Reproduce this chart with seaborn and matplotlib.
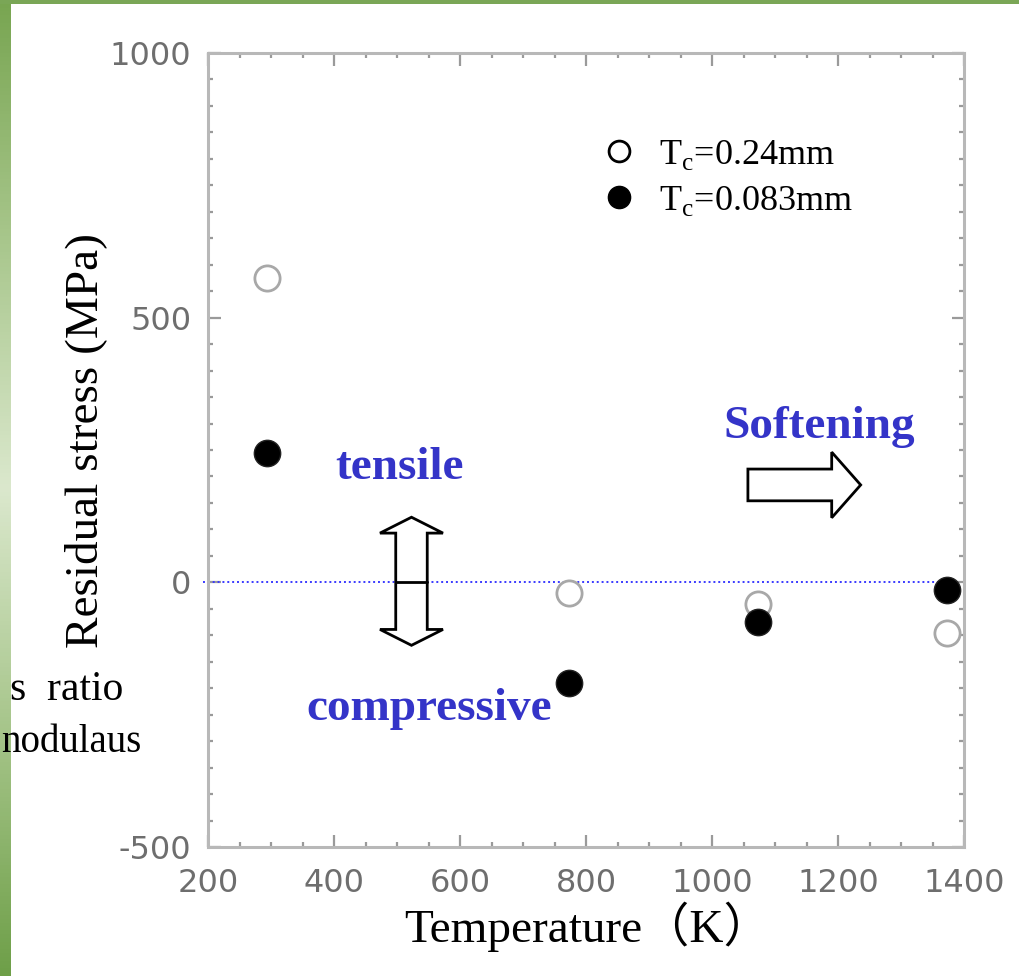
import numpy as np
import pandas as pd
import matplotlib
matplotlib.use("Agg")
import matplotlib.pyplot as plt
from matplotlib.patches import Polygon
from matplotlib.lines import Line2D
from matplotlib.ticker import MultipleLocator
from matplotlib.colors import LinearSegmentedColormap
import seaborn as sns

# ---- data -------------------------------------------------------------
temperature_K = [293, 773, 1073, 1373]
stress_thick = [575, -20, -40, -95]      # Tc = 0.24 mm  (open circles)
stress_thin = [245, -190, -75, -15]      # Tc = 0.083 mm (filled circles)
series_labels = ["T$_{\\mathregular{c}}$=0.24mm", "T$_{\\mathregular{c}}$=0.083mm"]
x_ticks = [200, 400, 600, 800, 1000, 1200, 1400]
y_ticks = [-500, 0, 500, 1000]

df = pd.DataFrame({
    "T": temperature_K * 2,
    "stress": stress_thick + stress_thin,
    "series": [series_labels[0]] * 4 + [series_labels[1]] * 4,
})

sns.set_theme(style="white")
plt.rcParams["font.family"] = ["Liberation Serif", "Noto Sans CJK JP", "DejaVu Sans"]
plt.rcParams["mathtext.fontset"] = "custom"
plt.rcParams["mathtext.rm"] = "Liberation Serif"
plt.rcParams["axes.unicode_minus"] = False

W, H = 1019, 976
fig = plt.figure(figsize=(W / 100, H / 100), dpi=100)
fig.patch.set_facecolor("white")
ax = fig.add_axes([208 / W, 1 - 847 / H, (964 - 208) / W, (847 - 53) / H])
ax.set_facecolor("white")

thick = df[df["series"] == series_labels[0]]
thin = df[df["series"] == series_labels[1]]
sns.scatterplot(data=thick, x="T", y="stress", ax=ax, s=330, marker="o",
                facecolor="white", edgecolor="#a8a8a8", linewidth=2.0,
                legend=False, zorder=4, clip_on=False)
sns.scatterplot(data=thin, x="T", y="stress", ax=ax, s=360, marker="o",
                color="black", edgecolor="#222222", linewidth=1.0,
                legend=False, zorder=4, clip_on=False)

ax.set_xlim(200, 1400)
ax.set_ylim(-500, 1000)

# zero line
ax.plot([192, 1368], [0, 0], ls=(0, (1, 1.5)), color="#3a3aff", lw=1.4,
        zorder=2, clip_on=False)

# frame and ticks
for sp in ax.spines.values():
    sp.set_visible(True)
    sp.set_color("#b8b8b8")
    sp.set_linewidth(2.2)
ax.set_xticks(x_ticks)
ax.set_yticks(y_ticks)
ax.xaxis.set_minor_locator(MultipleLocator(50))
ax.yaxis.set_minor_locator(MultipleLocator(50))
ax.tick_params(which="both", direction="in", top=True, right=True,
               bottom=True, left=True, color="#9a9a9a", width=1.6)
ax.tick_params(which="major", length=9)
ax.tick_params(which="minor", length=3.5)
for lab in ax.get_xticklabels() + ax.get_yticklabels():
    lab.set_family("DejaVu Sans")
    lab.set_fontsize(23)
    lab.set_color("#6e6e6e")
ax.tick_params(axis="x", which="major", pad=15)
ax.tick_params(axis="y", which="major", pad=12)
ax.set_xlabel("")
ax.set_ylabel("")

# axis titles
fig.text(588 / W, 1 - 927 / H, "Temperature（K）", ha="center", va="center",
         fontsize=34, color="black")
fig.text(86 / W, 1 - 440 / H, "Residual stress (MPa)", ha="center", va="center",
         rotation=90, fontsize=34, color="black")

# legend
handles = [
    Line2D([], [], ls="none", marker="o", markersize=15, markerfacecolor="white",
           markeredgecolor="black", markeredgewidth=2.0),
    Line2D([], [], ls="none", marker="o", markersize=16, markerfacecolor="black",
           markeredgecolor="black"),
]
leg = ax.legend(handles, series_labels, loc="upper left",
                bbox_to_anchor=(603 / W, 1 - 138 / H), bbox_transform=fig.transFigure,
                frameon=False, fontsize=26, handlelength=0.9, handletextpad=0.65,
                labelspacing=0.32, borderpad=0, borderaxespad=0)
for t in leg.get_texts():
    t.set_color("black")

# annotations
blue = "#3434c8"
fig.text(400 / W, 1 - 468 / H, "tensile", ha="center", va="center",
         fontsize=34, fontweight="bold", color=blue)
fig.text(429 / W, 1 - 709 / H, "compressive", ha="center", va="center",
         fontsize=34, fontweight="bold", color=blue)
fig.text(819 / W, 1 - 427 / H, "Softening", ha="center", va="center",
         fontsize=34, fontweight="bold", color=blue)

# double-headed arrow (tensile / compressive)
cx, sw, hw = 523, 25, 50
top_tip, top_base, bot_base, bot_tip = 123, 93, -89, -119
vert = [(cx, top_tip), (cx + hw, top_base), (cx + sw, top_base), (cx + sw, bot_base),
        (cx + hw, bot_base), (cx, bot_tip), (cx - hw, bot_base), (cx - sw, bot_base),
        (cx - sw, top_base), (cx - hw, top_base)]
ax.add_patch(Polygon(vert, closed=True, facecolor="white", edgecolor="black",
                     lw=2.0, zorder=5, joinstyle="miter"))
ax.plot([cx - sw, cx + sw], [0, 0], color="black", lw=2.0, zorder=6)

# right arrow (softening)
x0, xb, xt, yc, sh, hh = 1057, 1190, 1236, 184, 30, 62
harrow = [(x0, yc + sh), (xb, yc + sh), (xb, yc + hh), (xt, yc), (xb, yc - hh),
          (xb, yc - sh), (x0, yc - sh)]
ax.add_patch(Polygon(harrow, closed=True, facecolor="white", edgecolor="black",
                     lw=2.0, zorder=5, joinstyle="miter"))

# slide border: green strip on the left and a thin band on top
cmap = LinearSegmentedColormap.from_list(
    "slide", ["#78a551", "#a9c78d", "#dbe8cd", "#a6c58a", "#6e9f48"])
side = fig.add_axes([0, 0, 11 / W, 1], zorder=10)
side.imshow(np.linspace(0, 1, 256).reshape(-1, 1), aspect="auto", cmap=cmap)
side.set_axis_off()
topband = fig.add_axes([0, 1 - 3.5 / H, 1, 3.5 / H], zorder=10)
topband.set_facecolor("#7aa656")
topband.set_xticks([])
topband.set_yticks([])
for sp in topband.spines.values():
    sp.set_visible(False)

# side text from the slide, drawn over the border strip
fig.text(123 / W, 1 - 700 / H, "s  ratio", ha="right", va="baseline",
         fontsize=30, color="black", zorder=20)
fig.text(1 / W, 1 - 752 / H, "nodulaus", ha="left", va="baseline",
         fontsize=28, color="black", zorder=20)

fig.savefig("out.png", dpi=100)
